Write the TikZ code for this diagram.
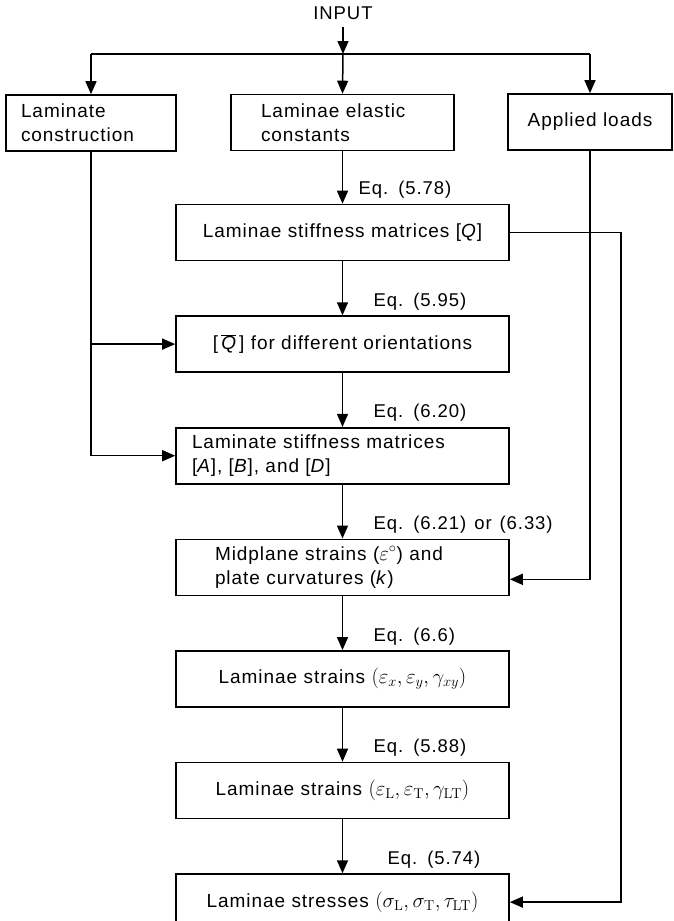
\documentclass[tikz,border=0pt]{standalone}
\usepackage[no-math]{fontspec}
\setmainfont{Liberation Sans}[LetterSpace=5]
\usepackage{tikz}
\usetikzlibrary{positioning, arrows.meta, calc}
\newcommand{\eqnum}[1]{Eq. (#1)}
\newcommand{\ital}[1]{\textit{#1}}
\newcommand{\sym}[1]{{\fontsize{22}{24}\selectfont$#1$}}
\protected\def\wide{\spaceskip=17pt plus 3pt minus 3pt\relax}
\protected\def\narrow{\spaceskip=8pt\relax}

\begin{document}
\begin{tikzpicture}[x=1pt, y=-1pt,
  box/.style={draw, line width=1.6pt, minimum height=56pt, inner ysep=0pt, font=\fontsize{19}{24}\selectfont\wide},
  topbox/.style={box, align=left},
  colbox/.style={box, text width=333pt, inner xsep=0pt, align=center},
  colboxl/.style={box, text width=333pt-2*#1, inner xsep=#1, align=left},
  eqlbl/.style={inner sep=0pt, font=\fontsize{18.5}{24}\selectfont\narrow},
  arr/.style={line width=1.5pt, -{Triangle[length=13pt, width=11pt]}},
  ln/.style={line width=1.5pt}]
\useasboundingbox (0,0) rectangle (673,921);
\node[eqlbl] (input) at (343,13) {INPUT};
\coordinate (split) at (343,54);
\node[topbox, text width=140pt, inner xsep=15pt] (lc) at (91,123) {Laminate\\construction};
\node[topbox, text width=163pt, inner xsep=30pt] (lec) at (342.5,122.5) {Laminae elastic\\constants};
\node[box, text width=164pt, inner xsep=0pt, align=center] (al) at (590,122) {Applied loads};
\node[colbox] (stq) at (342.5,232.5) {Laminae stiffness matrices [\ital{Q}]};
\node[colbox, below=54pt of stq] (qbar) {[\,$\overline{\mbox{\itshape Q}}$\,] for different orientations};
\node[colboxl=16pt, below=54pt of qbar] (abd) {Laminate stiffness matrices\\{}[\ital{A}], [\ital{B}], and [\ital{D}]};
\node[colboxl=39pt, below=54pt of abd] (mid) {Midplane strains (\sym{\varepsilon^{\circ}}) and\\plate curvatures (\ital{k})};
\node[colbox, below=54pt of mid] (sxy) {Laminae strains \sym{(\varepsilon_x, \varepsilon_y, \gamma_{xy})}};
\node[colbox, below=54pt of sxy] (slt) {Laminae strains \sym{(\varepsilon_{\mathrm{L}}, \varepsilon_{\mathrm{T}}, \gamma_{\mathrm{LT}})}};
\node[colbox, below=54pt of slt] (sts) {Laminae stresses \sym{(\sigma_{\mathrm{L}}, \sigma_{\mathrm{T}}, \tau_{\mathrm{LT}})}};
\node[eqlbl, above right=5pt and 16pt of stq.north] {\eqnum{5.78}};
\node[eqlbl, above right=5pt and 31pt of qbar.north] {\eqnum{5.95}};
\node[eqlbl, above right=5pt and 31pt of abd.north] {\eqnum{6.20}};
\node[eqlbl, above right=5pt and 31pt of mid.north] {\eqnum{6.21} or (6.33)};
\node[eqlbl, above right=5pt and 31pt of sxy.north] {\eqnum{6.6}};
\node[eqlbl, above right=5pt and 31pt of slt.north] {\eqnum{5.88}};
\node[eqlbl, above right=5pt and 45pt of sts.north] {\eqnum{5.74}};
\draw[arr, shorten <=7pt] (input) -- (split);
\draw[ln] (lc.north |- split) -- (al.north |- split);
\draw[arr] (lc.north |- split) -- (lc.north);
\draw[arr] (split) -- (lec.north);
\draw[arr] (al.north |- split) -- (al.north);
\draw[arr] (lec) -- (stq);
\draw[arr] (stq) -- (qbar);
\draw[arr] (qbar) -- (abd);
\draw[arr] (abd) -- (mid);
\draw[arr] (mid) -- (sxy);
\draw[arr] (sxy) -- (slt);
\draw[arr] (slt) -- (sts);
\draw[arr] (lc.south) |- (abd.west);
\draw[arr] (lc.south |- qbar.west) -- (qbar.west);
\draw[arr] (al.south) |- ([yshift=-12pt]mid.east);
\draw[arr] (stq.east) -- ++(111,0) |- (sts.east);
\end{tikzpicture}
\end{document}
